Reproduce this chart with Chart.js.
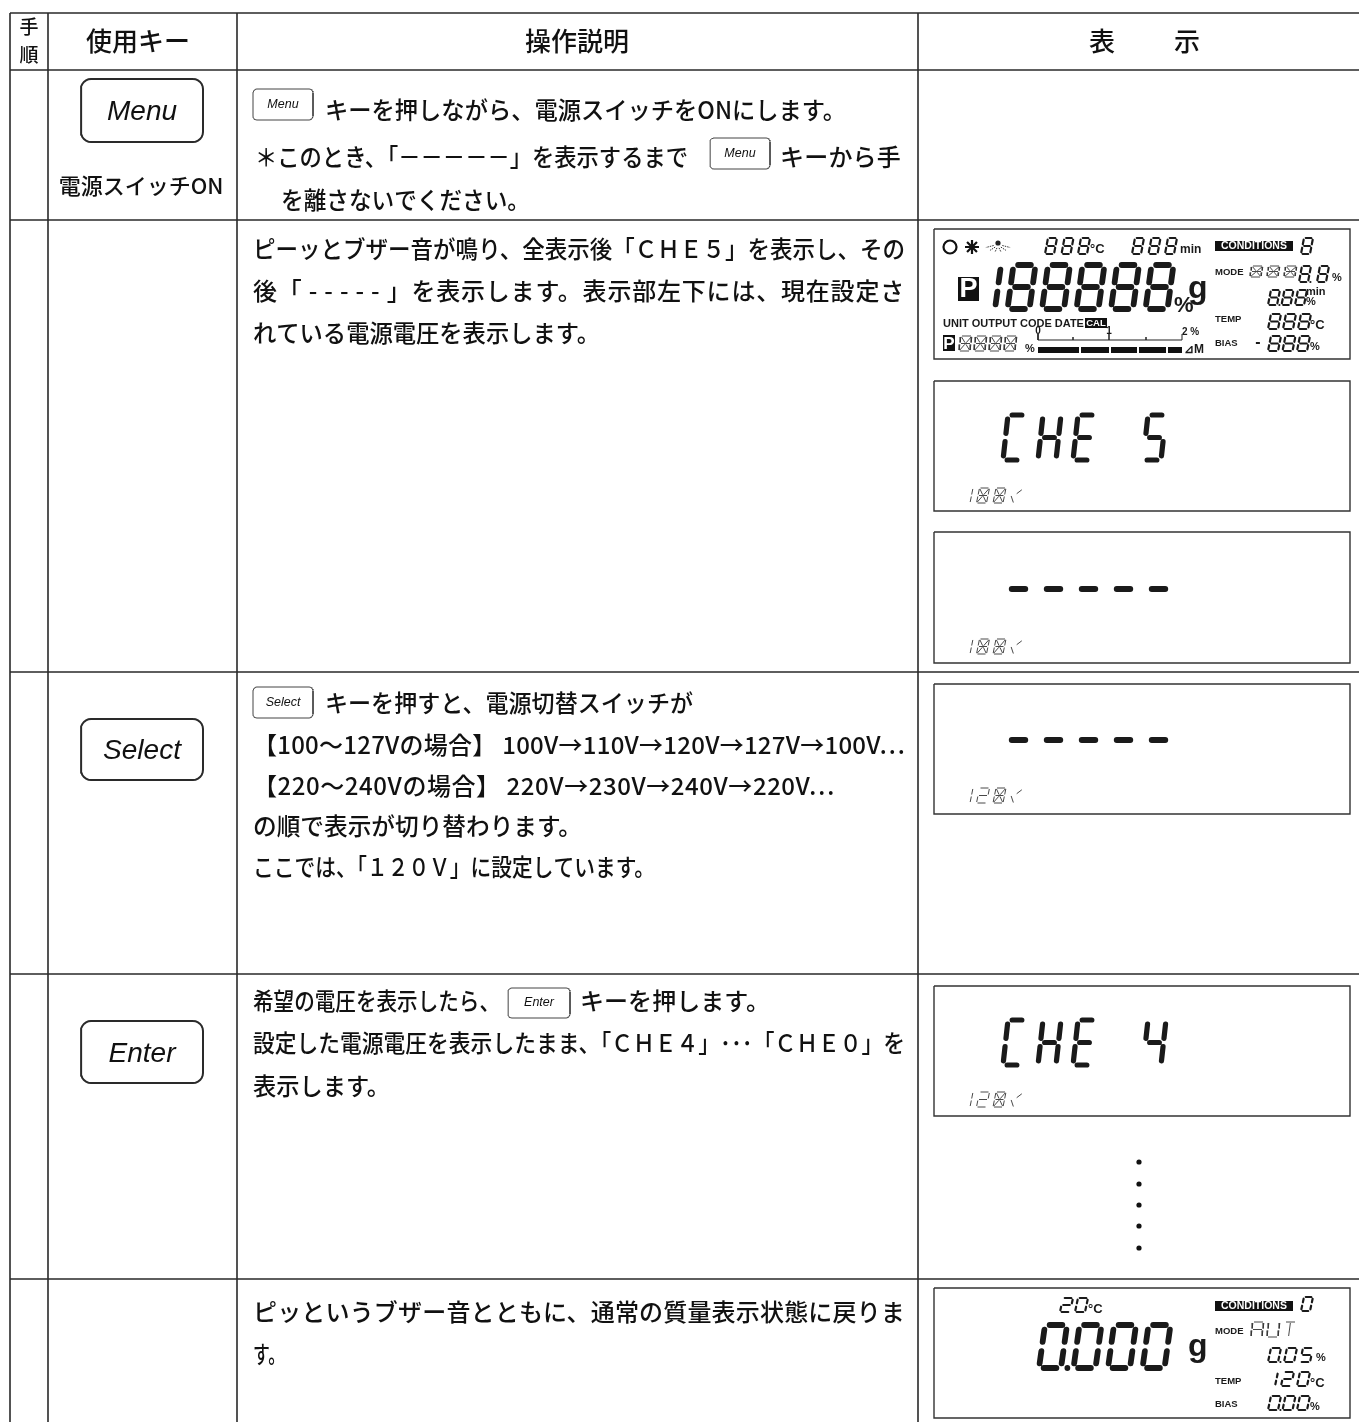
<!DOCTYPE html>
<html>
<head>
<meta charset="utf-8">
<style>
  html,body{margin:0;padding:0;background:#fff;}
  canvas{display:block;}
</style>
<script src="https://cdn.jsdelivr.net/npm/chart.js@4"></script>
</head>
<body>
<canvas id="sheet" width="1359" height="1422"></canvas>
<script>
// ===== Page data =====
const columnRules = [10, 48, 237, 918];
const rowRules = [13, 70, 220, 672, 974, 1279];

// screen boxes: left, right, top, bottom
const screenBoxes = [
  [934, 1350, 229, 359], [934, 1350, 381, 511], [934, 1350, 532, 663],
  [934, 1350, 684, 814], [934, 1350, 986, 1116], [934, 1350, 1288, 1418]
];
// keys: label, left, right, top, bottom
const bigKeys = [
  ['Menu', 81, 203, 79, 142], ['Select', 81, 203, 719, 780], ['Enter', 81, 203, 1021, 1083]
];
const smallKeys = [
  ['Menu', 253, 313, 89, 120], ['Menu', 710, 770, 138, 169],
  ['Select', 253, 313, 687, 718], ['Enter', 508, 570, 988, 1018]
];

// body text: string, left, right, centre y
const bodyText = [
  ['キーを押しながら、電源スイッチをONにします。', 325, 846, 110],
  ['＊このとき、「－－－－－」を表示するまで', 255, 688, 157],
  ['キーから手', 780, 901, 157],
  ['を離さないでください。', 281, 530, 200],
  ['ピーッとブザー音が鳴り、全表示後「ＣＨＥ５」を表示し、その', 253, 905, 249],
  ['後「 - - - - - 」を表示します。表示部左下には、現在設定さ', 253, 905, 291],
  ['れている電源電圧を表示します。', 253, 600, 333],
  ['キーを押すと、電源切替スイッチが', 325, 693, 703],
  ['【100～127Vの場合】 100V→110V→120V→127V→100V…', 253, 905, 745],
  ['【220～240Vの場合】 220V→230V→240V→220V…', 253, 835, 786],
  ['の順で表示が切り替わります。', 253, 582, 826],
  ['ここでは、「１２０Ｖ」に設定しています。', 253, 655, 867],
  ['希望の電圧を表示したら、', 253, 500, 1001],
  ['キーを押します。', 580, 770, 1001],
  ['設定した電源電圧を表示したまま、「ＣＨＥ４」･･･「ＣＨＥ０」を', 253, 905, 1043],
  ['表示します。', 253, 390, 1086],
  ['ピッというブザー音とともに、通常の質量表示状態に戻りま', 253, 905, 1312],
  ['す。', 253, 285, 1354]
];

// LCD runs: text, x, y, digit w, digit h, pitch, stroke, slant
const lcdRuns = [
  ['888', 1045, 238, 9, 16, 16.5, 2.2, 3], ['888', 1132, 238, 9, 16, 16.5, 2.2, 3],
  ['8', 1301, 238, 9, 16, 14, 2.2, 3],
  ['188888', 973, 265, 22, 44, 34.5, 5.8, 6],
  ['8.8', 1299, 266, 9, 16, 18, 2.2, 3],
  ['8.88', 1268, 290, 9, 15, 13.5, 2.2, 3],
  ['888', 1268, 314, 10, 15, 15, 2.2, 3],
  ['888', 1268, 336, 10, 15, 14.5, 2.2, 3],
  ['CHE 5', 1003, 415, 18, 45, 35, 5.2, 5],
  ['-----', 1007, 589, 23, 0, 35, 6, 0],
  ['-----', 1007, 740, 23, 0, 35, 6, 0],
  ['CHE 4', 1003, 1020, 18, 45, 35, 5.2, 5],
  ['20', 1060, 1298, 10, 14, 15, 2.2, 3],
  ['0.000', 1039, 1325, 22, 43, 34.5, 5.8, 6],
  ['0', 1301, 1297, 9, 14, 14, 2.2, 3],
  ['0.05', 1268, 1348, 10, 14, 16, 2.2, 3],
  ['120', 1265, 1372, 10, 14, 16, 2.2, 3],
  ['0.00', 1268, 1396, 10, 14, 14.5, 2.2, 3]
];
// thin starburst readouts
const thinRuns = [
  ['1**V', 960, 488, 10, 15, 16.5, 3], ['1**V', 960, 639, 10, 15, 16.5, 3],
  ['12*V', 960, 788, 10, 15, 16.5, 3], ['12*V', 960, 1092, 10, 15, 16.5, 3],
  ['***', 1250, 266, 11, 11, 17, 2], ['****', 959, 336, 11, 15, 15, 2],
  ['AUT', 1251, 1322, 11, 15, 16, 2]
];

// black plates: left, right, top, bottom
const plates = [
  [958, 979, 277, 301], [943, 955, 335, 351], [1215, 1293, 241, 251], [1085, 1107, 318, 328],
  [1215, 1293, 1301, 1311], [1038, 1079, 347, 353], [1081, 1109, 347, 353], [1111, 1137, 347, 353],
  [1139, 1166, 347, 353], [1168, 1182, 347, 353]
];
const waitDotsX = [1139, 1139, 1139, 1139, 1139];
const waitDotsY = [1162, 1184, 1205, 1226, 1248];

// ruler above the bar: polyline with ticks
const rulerX = [1038, 1038, 1073, 1073, 1073, 1109, 1109, 1109, 1146, 1146, 1146, 1182, 1182];
const rulerY = [334, 340, 340, 337, 340, 340, 334, 340, 340, 337, 340, 340, 334];

// labels: text, x, y, size, weight, colour, align
const labels = [
  ['°C', 1090, 249, 13, 'bold', '#1a1a1a', 'left'], ['min', 1180, 250, 12, 'bold', '#1a1a1a', 'left'],
  ['CONDITIONS', 1254, 246.5, 10.5, 'bold', '#fff', 'center'], ['P', 968.5, 290, 27, 'bold', '#fff', 'center'],
  ['g', 1188, 289, 32, 'bold', '#1a1a1a', 'left'], ['%', 1174, 306, 22, 'bold', '#1a1a1a', 'left'],
  ['UNIT OUTPUT CODE DATE', 943, 323.5, 11, 'bold', '#1a1a1a', 'left'], ['CAL', 1096, 323.5, 9.5, 'bold', '#fff', 'center'],
  ['P', 949, 344, 17, 'bold', '#fff', 'center'], ['%', 1025, 349, 11, 'bold', '#1a1a1a', 'left'],
  ['0', 1038, 331, 10, 'bold', '#1a1a1a', 'center'], ['1', 1109, 331, 10, 'bold', '#1a1a1a', 'center'],
  ['2 %', 1182, 332, 10, 'bold', '#1a1a1a', 'left'], ['⊿M', 1184, 350, 12, 'bold', '#1a1a1a', 'left'],
  ['MODE', 1215, 272, 9.5, 'bold', '#1a1a1a', 'left'], ['%', 1332, 278, 11, 'bold', '#1a1a1a', 'left'],
  ['min', 1306, 292, 11, 'bold', '#1a1a1a', 'left'], ['%', 1306, 302, 11, 'bold', '#1a1a1a', 'left'],
  ['TEMP', 1215, 319, 9.5, 'bold', '#1a1a1a', 'left'], ['°C', 1310, 325, 13, 'bold', '#1a1a1a', 'left'],
  ['BIAS', 1215, 343, 9.5, 'bold', '#1a1a1a', 'left'], ['%', 1310, 347, 11, 'bold', '#1a1a1a', 'left'],
  ['°C', 1088, 1309, 13, 'bold', '#1a1a1a', 'left'], ['g', 1188, 1347, 32, 'bold', '#1a1a1a', 'left'],
  ['CONDITIONS', 1254, 1306.5, 10.5, 'bold', '#fff', 'center'], ['MODE', 1215, 1331, 9.5, 'bold', '#1a1a1a', 'left'],
  ['%', 1316, 1358, 11, 'bold', '#1a1a1a', 'left'], ['TEMP', 1215, 1381, 9.5, 'bold', '#1a1a1a', 'left'],
  ['°C', 1310, 1383, 13, 'bold', '#1a1a1a', 'left'], ['BIAS', 1215, 1404, 9.5, 'bold', '#1a1a1a', 'left'],
  ['%', 1310, 1407, 11, 'bold', '#1a1a1a', 'left'], ['-', 1258, 343, 16, 'bold', '#1a1a1a', 'center']
];

// ===== Helpers =====
const GAP = {x: NaN, y: NaN};
const segmentMap = {
  '0':'abcdef', '1':'bc', '2':'abdeg', '3':'abcdg', '4':'bcfg', '5':'acdfg', '8':'abcdefg',
  'A':'abcefg', 'U':'bcdef', 'T':'a', 'C':'adef', 'H':'bcefg', 'E':'adefg', '-':'g', '*':'abcdefg', 'V':''
};
const segmentEnds = {
  a:[0,0,1,0], b:[1,0,1,.5], c:[1,.5,1,1], d:[0,1,1,1], e:[0,.5,0,1], f:[0,0,0,.5], g:[0,.5,1,.5]
};

function segmentLine(x, y, w, h, slant, s, inset){
  const ax = x + s[0]*w + (1-s[1])*slant, ay = y + s[1]*h;
  const bx = x + s[2]*w + (1-s[3])*slant, by = y + s[3]*h;
  const len = Math.hypot(bx-ax, by-ay) || 1;
  const dx = (bx-ax)/len*inset, dy = (by-ay)/len*inset;
  return [{x:ax+dx, y:ay+dy}, {x:bx-dx, y:by-dy}, GAP];
}

function buildRun(run, thin){
  const [text, x, y, w, h, pitch] = run;
  const th = thin ? 0.9 : run[6];
  const slant = thin ? run[6] : run[7];
  const pts = [];
  const dots = [];
  let cx = x;
  for(const ch of text){
    if(ch === '.'){
      dots.push({x: cx - pitch + w + th*1.1, y: y + h});
      continue;
    }
    for(const k of (segmentMap[ch] || '')){
      pts.push(...segmentLine(cx, y, w, h, slant, segmentEnds[k], thin ? 1 : th*0.8));
    }
    if(ch === '*'){
      pts.push(...segmentLine(cx, y, w, h, slant, [0,0,.5,.5], 1), ...segmentLine(cx, y, w, h, slant, [1,0,.5,.5], 1));
      pts.push(...segmentLine(cx, y, w, h, slant, [0,1,.5,.5], 1), ...segmentLine(cx, y, w, h, slant, [1,1,.5,.5], 1));
    }
    if(ch === 'T'){
      pts.push(...segmentLine(cx, y, w, h, slant, [.5,0,.5,1], 1));
    }
    if(ch === 'V'){
      pts.push(...segmentLine(cx, y, w, h, slant, [0,.5,.4,1], .5), ...segmentLine(cx, y, w, h, slant, [1,.1,.5,.4], .5));
    }
    cx += pitch;
  }
  return {pts, dots, th};
}

function roundedBox(l, r, t, b, rad){
  const pts = [];
  const corners = [[r-rad,t+rad,-90],[r-rad,b-rad,0],[l+rad,b-rad,90],[l+rad,t+rad,180]];
  corners.forEach(c=>{
    for(let a=0;a<=90;a+=15){
      const ang = (c[2]+a)*Math.PI/180;
      pts.push({x:c[0]+rad*Math.cos(ang), y:c[1]+rad*Math.sin(ang)});
    }
  });
  pts.push(pts[0], GAP);
  return pts;
}

function lineSet(data, width, color, cap){
  return {type:'scatter', showLine:true, data, borderColor:color, borderWidth:width,
    borderCapStyle:cap||'butt', pointRadius:0, fill:false, tension:0, spanGaps:false};
}

// ===== Datasets =====
const datasets = [];

const rulePts = [];
rowRules.forEach(y=>rulePts.push({x:10,y}, {x:1359,y}, GAP));
columnRules.forEach(x=>rulePts.push({x,y:13}, {x,y:1422}, GAP));
datasets.push(lineSet(rulePts, 1.6, '#2a2a2a'));

const boxPts = [];
screenBoxes.forEach(b=>boxPts.push({x:b[0],y:b[2]},{x:b[1],y:b[2]},{x:b[1],y:b[3]},{x:b[0],y:b[3]},{x:b[0],y:b[2]},GAP));
datasets.push(lineSet(boxPts, 1.4, '#333'));

datasets.push(lineSet(bigKeys.flatMap(k=>roundedBox(k[1],k[2],k[3],k[4],10)), 2, '#2a2a2a'));
datasets.push(lineSet(smallKeys.flatMap(k=>roundedBox(k[1],k[2],k[3],k[4],4)), 1, '#444'));

plates.forEach(p=>{
  const mid = (p[2]+p[3])/2;
  datasets.push(lineSet([{x:p[0],y:mid},{x:p[1],y:mid}], p[3]-p[2], '#111'));
});

datasets.push(lineSet(rulerX.map((x,i)=>({x, y:rulerY[i]})), 1, '#222'));

const byWidth = {};
const lcdDots = [];
lcdRuns.forEach(run=>{
  const r = buildRun(run, false);
  (byWidth[r.th] = byWidth[r.th] || []).push(...r.pts);
  lcdDots.push(...r.dots.map(d=>({...d, r:r.th*0.5})));
});
Object.keys(byWidth).forEach(w=>datasets.push(lineSet(byWidth[w], +w, '#1a1a1a', 'round')));
const thinPts = thinRuns.flatMap(run=>buildRun(run, true).pts);
datasets.push(lineSet(thinPts, 0.9, '#333'));

datasets.push({type:'scatter', data:lcdDots, pointRadius:lcdDots.map(d=>d.r), pointBackgroundColor:'#1a1a1a', pointBorderWidth:0});
datasets.push({type:'scatter', data:waitDotsX.map((x,i)=>({x, y:waitDotsY[i]})), pointRadius:2.6, pointBackgroundColor:'#111', pointBorderWidth:0});

// status icons
datasets.push({type:'scatter', data:[{x:950,y:247}], pointRadius:6.5, pointBackgroundColor:'#fff', pointBorderColor:'#111', pointBorderWidth:2.2});
datasets.push({type:'scatter', data:[{x:972,y:247}], pointStyle:'star', pointRadius:7, pointBorderColor:'#111', pointBorderWidth:2.2});
datasets.push({type:'scatter', data:[{x:998,y:243}], pointRadius:2.6, pointBackgroundColor:'#222', pointBorderWidth:0});
const sunPts = [];
[-60,-35,-12,12,35,60].forEach(a=>{
  const s = Math.sin(a*Math.PI/180), c = Math.cos(a*Math.PI/180);
  sunPts.push({x:998+5*s,y:243+5*c},{x:998+14*s,y:243+9*c},GAP);
});
datasets.push(Object.assign(lineSet(sunPts, 1, '#333'), {borderDash:[1.5,1]}));

// ===== Text drawn through the scales =====
const FONT_JP = '"Noto Sans CJK JP","Noto Sans",sans-serif';
const FONT_LATIN = '"Liberation Sans",Arial,sans-serif';

function fitText(ctx, text, x, endX, y){
  ctx.letterSpacing = '0px';
  const target = endX - x;
  const natural = ctx.measureText(text).width;
  if(natural < target){
    ctx.letterSpacing = ((target-natural)/text.length).toFixed(3)+'px';
    ctx.fillText(text, x, y);
    ctx.letterSpacing = '0px';
  }else{
    ctx.fillText(text, x, y, target);
  }
}

const textPlugin = {
  id:'sheetText',
  afterDatasetsDraw(chart){
    const {ctx, scales:{x:sx, y:sy}} = chart;
    ctx.save();
    ctx.textBaseline = 'middle';
    ctx.fillStyle = '#111';

    ctx.font = '500 19px '+FONT_JP;
    ctx.textAlign = 'center';
    ctx.fillText('手', sx.getPixelForValue(29), sy.getPixelForValue(27));
    ctx.fillText('順', sx.getPixelForValue(29), sy.getPixelForValue(55));
    ctx.font = '500 26px '+FONT_JP;
    ctx.fillText('使用キー', sx.getPixelForValue(138), sy.getPixelForValue(41));
    ctx.fillText('操作説明', sx.getPixelForValue(577), sy.getPixelForValue(41));
    ctx.fillText('表', sx.getPixelForValue(1102), sy.getPixelForValue(41));
    ctx.fillText('示', sx.getPixelForValue(1187), sy.getPixelForValue(41));
    ctx.font = '500 22px '+FONT_JP;
    ctx.fillText('電源スイッチON', sx.getPixelForValue(141), sy.getPixelForValue(186));

    ctx.font = 'italic 28px '+FONT_LATIN;
    bigKeys.forEach(k=>ctx.fillText(k[0], sx.getPixelForValue((k[1]+k[2])/2), sy.getPixelForValue((k[3]+k[4])/2+2)));
    ctx.font = 'italic 12.5px '+FONT_LATIN;
    smallKeys.forEach(k=>ctx.fillText(k[0], sx.getPixelForValue((k[1]+k[2])/2), sy.getPixelForValue((k[3]+k[4])/2)));

    ctx.textAlign = 'left';
    ctx.font = '500 24px '+FONT_JP;
    bodyText.forEach(t=>fitText(ctx, t[0], sx.getPixelForValue(t[1]), sx.getPixelForValue(t[2]), sy.getPixelForValue(t[3])));

    labels.forEach(l=>{
      ctx.font = l[4]+' '+l[3]+'px '+FONT_LATIN;
      ctx.fillStyle = l[5];
      ctx.textAlign = l[6];
      ctx.fillText(l[0], sx.getPixelForValue(l[1]), sy.getPixelForValue(l[2]));
    });
    ctx.restore();
  }
};

// ===== Chart =====
new Chart(document.getElementById('sheet').getContext('2d'), {
  type:'scatter',
  data:{datasets},
  options:{
    responsive:false,
    animation:false,
    layout:{padding:0, autoPadding:false},
    events:[],
    plugins:{legend:{display:false}, tooltip:{enabled:false}, title:{display:false}},
    scales:{
      x:{type:'linear', min:0, max:1359, display:false},
      y:{type:'linear', min:0, max:1422, reverse:true, display:false}
    }
  },
  plugins:[textPlugin]
});
</script>
</body>
</html>
